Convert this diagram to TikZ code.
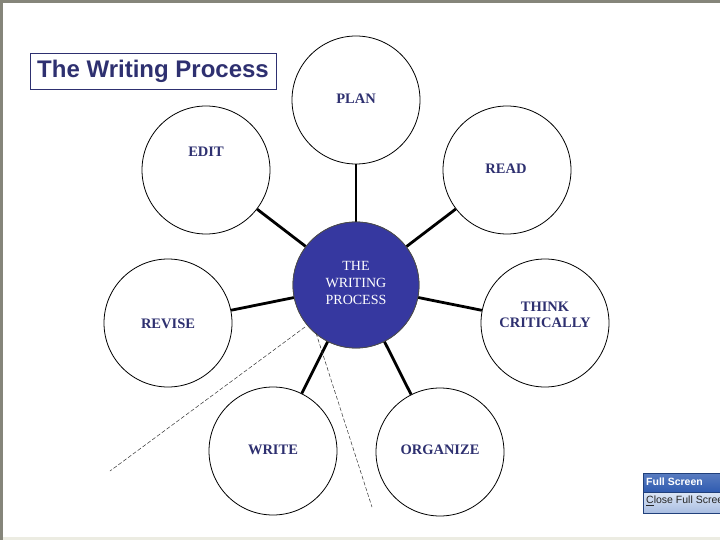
\documentclass[tikz,border=0pt]{standalone}
\usepackage{fontspec}
\setmainfont{Liberation Serif}
\newfontfamily\arialfont{Liberation Sans}
\definecolor{navy}{HTML}{2E3070}
\definecolor{hubblue}{HTML}{3638A0}
\definecolor{framegray}{HTML}{85857A}
\definecolor{bandgray}{HTML}{ECECE2}
\definecolor{fsblue}{HTML}{2F5BB0}
\definecolor{fslight}{HTML}{DCE6F6}
\begin{document}
\begin{tikzpicture}[x=1pt,y=-1pt,
  outer/.style={circle,draw=black,line width=0.8pt,fill=white,minimum size=128pt,inner sep=0pt},
  hub/.style={circle,draw=black!70,line width=0.8pt,fill=hubblue,minimum size=126pt,inner sep=0pt},
  lbl/.style={text=navy,font=\fontsize{14.5}{16}\selectfont\bfseries},
  hubtext/.style={text=white,align=center,font=\fontsize{14}{17}\selectfont},
  spoke/.style={line width=2.8pt,black},
  guide/.style={line width=0.5pt,dash pattern=on 4pt off 2pt,black!80}]
\useasboundingbox (0,0) rectangle (720,540);
\fill[white] (0,0) rectangle (720,540);
% window frame
\fill[framegray] (0,0) rectangle (720,3);
\fill[framegray] (0,0) rectangle (3,540);
\fill[bandgray] (3,537) rectangle (720,540);
% title
\node[draw=navy,line width=0.8pt,minimum width=246pt,minimum height=36pt,inner sep=0pt,
  text=navy,font=\arialfont\bfseries\fontsize{24}{27}\selectfont] (title) at (153,71) {The Writing Process};
% circles
\node[hub] (hub) at (356,285) {};
\node[outer] (plan) at (356,100) {};
\node[outer] (read) at (507,170) {};
\node[outer] (think) at (545,323) {};
\node[outer] (organize) at (440,452) {};
\node[outer] (write) at (273,451) {};
\node[outer] (revise) at (168,323) {};
\node[outer] (edit) at (206,170) {};
% labels
\node[lbl] (plantxt) at (356,99) {PLAN};
\node[lbl] (readtxt) at (506,169) {READ};
\node[lbl,align=center] (thinktxt) at (545,315) {THINK\\CRITICALLY};
\node[lbl] (organizetxt) at (440,450) {ORGANIZE};
\node[lbl] (writetxt) at (273,450) {WRITE};
\node[lbl] (revisetxt) at (168,324) {REVISE};
\node[lbl] (edittxt) at (206,152) {EDIT};
% spokes
\draw[spoke] (hub) -- (plan);
\draw[spoke] (hub) -- (read);
\draw[spoke] (hub) -- (think);
\draw[spoke] (hub) -- (organize);
\draw[spoke] (hub) -- (write);
\draw[spoke] (hub) -- (revise);
\draw[spoke] (hub) -- (edit);
% redraw hub over spoke ends
\node[hub] (hubtop) at (356,285) {};
\node[hubtext] (hubtxt) at (356,283) {THE\\WRITING\\PROCESS};
% dashed guides
\coordinate (g1s) at (305,327);
\coordinate (g1e) at (110,471);
\coordinate (g2s) at (316,333);
\coordinate (g2e) at (372,507);
\draw[guide] (g1s) -- (g1e);
\draw[guide] (g2s) -- (g2e);
% full screen widget
\node[draw=fsblue!70!black,line width=0.6pt,top color=fsblue!80,bottom color=fsblue,minimum width=80pt,minimum height=19pt,anchor=north west,inner sep=0pt] (fs) at (643,473) {};
\node[anchor=west,text=white,font=\arialfont\bfseries\fontsize{10.5}{12}\selectfont,inner sep=0pt] (fstxt) at (646,482) {Full Screen};
\node[draw=fsblue!70!black,line width=0.6pt,top color=fslight,bottom color=fslight!70!fsblue,minimum width=80pt,minimum height=21pt,anchor=north west,inner sep=0pt] (fsc) at (643,492) {};
\node[anchor=west,text=black!85,font=\arialfont\fontsize{10.5}{12}\selectfont,inner sep=0pt] (fsctxt) at (646,501) {\underline{C}lose Full Screen};
\end{tikzpicture}
\end{document}
